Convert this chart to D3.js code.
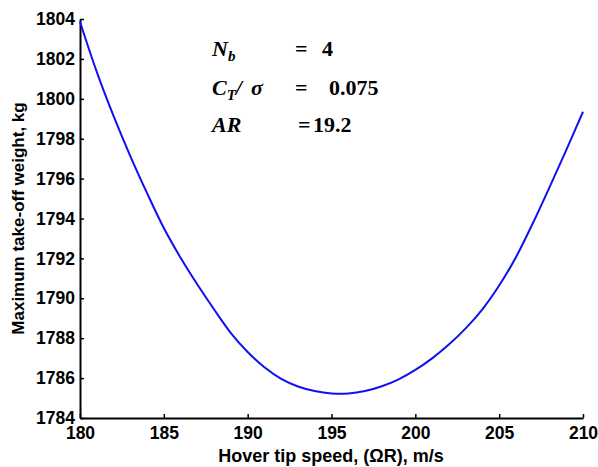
<!DOCTYPE html>
<html>
<head>
<meta charset="utf-8">
<script src="https://cdn.jsdelivr.net/npm/d3@7"></script>
<style>
  body { margin: 0; background: #fff; }
  svg text { font-family: "Liberation Sans", Arial, sans-serif; font-weight: bold; }
  svg text.note { font-family: "Liberation Serif", "Times New Roman", serif; font-size: 22px; font-weight: bold; }
</style>
</head>
<body>
<div id="chart"></div>
<script>
// tip speed (m/s) and take-off weight (kg)
let tipSpeed = [180, 181, 182, 183, 184, 185, 186, 187, 188, 189, 190,
                191, 192, 193, 194, 195, 196, 197, 198, 199, 200,
                201, 202, 203, 204, 205, 206, 207, 208, 209, 210];
let weight = [1803.86, 1801.35, 1799.14, 1797.13, 1795.27, 1793.52, 1792.03, 1790.69, 1789.44, 1788.26, 1787.31,
              1786.54, 1785.96, 1785.58, 1785.35, 1785.23, 1785.23, 1785.35, 1785.59, 1785.94, 1786.41,
              1786.99, 1787.68, 1788.49, 1789.45, 1790.64, 1792.06, 1793.75, 1795.56, 1797.43, 1799.35];
let xTicks = [180, 185, 190, 195, 200, 205, 210];
let yTicks = [1784, 1786, 1788, 1790, 1792, 1794, 1796, 1798, 1800, 1802, 1804];

let dim = { width: 598, height: 467 };
let m = { left: 80, right: 15, top: 19, bottom: 49 };

let svg = d3.select('#chart').append('svg')
    .attr('width', dim.width)
    .attr('height', dim.height);

let scaleX = d3.scaleLinear()
    .domain([180, 210])
    .range([m.left, dim.width - m.right]);

let scaleY = d3.scaleLinear()
    .domain([1784, 1804])
    .range([dim.height - m.bottom, m.top]);

let axisX = svg.append('g')
    .attr('transform', `translate(0,${dim.height - m.bottom})`)
    .call(d3.axisBottom(scaleX).tickValues(xTicks).tickFormat(d3.format('d'))
        .tickSizeInner(-4).tickSizeOuter(0).tickPadding(9));

let axisY = svg.append('g')
    .attr('transform', `translate(${m.left},0)`)
    .call(d3.axisLeft(scaleY).tickValues(yTicks).tickFormat(d3.format('d'))
        .tickSizeInner(-4).tickSizeOuter(0).tickPadding(5));

[axisX, axisY].forEach(a => {
    a.select('.domain').attr('stroke', '#000').attr('stroke-width', 2);
    a.selectAll('.tick line').attr('stroke', '#000').attr('stroke-width', 1.5);
    a.selectAll('.tick text').attr('fill', '#000').style('font-size', '17.5px');
});

let line = d3.line()
    .x((d, i) => scaleX(tipSpeed[i]))
    .y(d => scaleY(d))
    .curve(d3.curveCatmullRom);

svg.append('path')
    .datum(weight)
    .attr('d', line)
    .attr('fill', 'none')
    .attr('stroke', '#1010f0')
    .attr('stroke-width', 2);

// axis titles
svg.append('text')
    .attr('x', 331)
    .attr('y', 462)
    .attr('text-anchor', 'middle')
    .style('font-size', '18px')
    .text('Hover tip speed, (ΩR), m/s');

svg.append('text')
    .attr('transform', `translate(24,${(m.top + dim.height - m.bottom) / 2}) rotate(-90)`)
    .attr('text-anchor', 'middle')
    .style('font-size', '17px')
    .text('Maximum take-off weight, kg');

// parameter note
let l1 = svg.append('text').attr('class', 'note').attr('y', 56);
l1.append('tspan').attr('x', 212).style('font-style', 'italic').text('N');
l1.append('tspan').attr('dy', 5).style('font-style', 'italic').style('font-size', '15px').text('b');
l1.append('tspan').attr('x', 295).attr('dy', -5).text('=');
l1.append('tspan').attr('x', 322).text('4');

let l2 = svg.append('text').attr('class', 'note').attr('y', 95);
l2.append('tspan').attr('x', 212).style('font-style', 'italic').text('C');
l2.append('tspan').attr('dy', 5).style('font-style', 'italic').style('font-size', '15px').text('T');
l2.append('tspan').attr('dy', -5).style('font-style', 'italic').text('/');
l2.append('tspan').attr('x', 251).style('font-style', 'italic').text('σ');
l2.append('tspan').attr('x', 295).text('=');
l2.append('tspan').attr('x', 329).text('0.075');

let l3 = svg.append('text').attr('class', 'note').attr('y', 132);
l3.append('tspan').attr('x', 212).style('font-style', 'italic').text('AR');
l3.append('tspan').attr('x', 298).text('=');
l3.append('tspan').attr('x', 313).text('19.2');
</script>
</body>
</html>
